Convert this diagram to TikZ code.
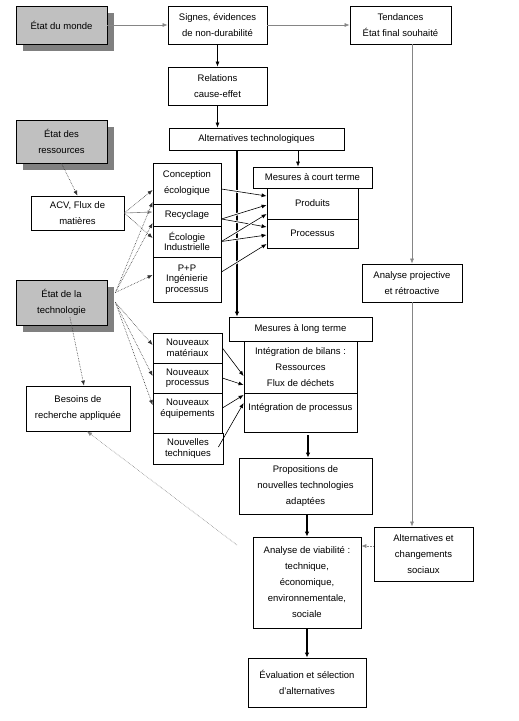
\documentclass[tikz,border=0pt]{standalone}
\usepackage{fontspec}
\setmainfont{Liberation Sans}
\usetikzlibrary{arrows.meta, positioning, shadows, calc}
\definecolor{etatgray}{HTML}{C0C0C0}
\definecolor{shadegray}{HTML}{808080}
\definecolor{linegray}{HTML}{858585}

\tikzset{
  box/.style={draw, line width=0.8pt, fill=white, align=center, inner sep=0pt,
    font=\fontsize{9.5}{16}\selectfont},
  tight/.style={font=\fontsize{9.5}{10.5}\selectfont},
  wh/.style 2 args={minimum width=#1, minimum height=#2},
  etat/.style={box, fill=etatgray,
    drop shadow={shadow xshift=7pt, shadow yshift=-7pt, fill=shadegray, opacity=1}},
  arr/.style={-{Latex[length=5pt,width=4pt]}, line width=0.6pt},
  grayarr/.style={arr, draw=linegray},
  dotarr/.style={arr, densely dotted, draw=black!80},
  thickarr/.style={-{Latex[length=5pt,width=4.5pt]}, line width=1.6pt},
  hop/.style={preaction={draw=white, line width=2.6pt, shorten <=4pt, shorten >=6pt}},
}

\begin{document}
\begin{tikzpicture}[x=1pt, y=-1pt]
  \useasboundingbox (0,0) rectangle (519,721);

  % states of the world, resources, technology
  \node[etat, wh={91}{38}] (monde) at (61.5,25) {État du monde};
  \node[etat, wh={91}{43}] (ress) at (61.5,141.5) {État des\\ressources};
  \node[etat, wh={91}{45}] (tech) at (61.5,302.5) {État de la\\technologie};

  % main chain
  \node[box, wh={99}{38}] (signes) at (217.5,25) {Signes, évidences\\de non-durabilité};
  \node[box, wh={101}{38}] (tend) at (400.5,25) {Tendances\\État final souhaité};
  \node[box, wh={99}{38}] (relat) at (217.5,86) {Relations\\cause-effet};
  \node[box, wh={175}{22}] (alttech) at (256.5,139) {Alternatives technologiques};
  \node[box, wh={93}{34}] (acv) at (77.5,213) {ACV, Flux de\\matières};

  % short term column
  \node[box, wh={68}{41}] (conc) at (187,183.5) {Conception\\écologique};
  \node[box, wh={68}{22}] (recy) at (187,215) {Recyclage};
  \node[box, tight, wh={68}{31}] (ecol) at (187,241.5) {Écologie\\Industrielle};
  \node[box, tight, wh={68}{45}] (pp) at (187,279.5) {P+P\\Ingénierie\\processus};
  \node[box, wh={119}{21}] (mct) at (312.5,177.5) {Mesures à court terme};
  \node[box, wh={91}{31}] (prod) at (312.5,203.5) {Produits};
  \node[box, wh={91}{29}] (proc) at (312.5,233.5) {Processus};

  % long term column
  \node[box, wh={143}{24}] (mlt) at (300.5,329) {Mesures à long terme};
  \node[box, wh={113}{52}] (bil) at (300.5,367) {Intégration de bilans :\\Ressources\\Flux de déchets};
  \node[box, tight, wh={113}{39}] (iproc) at (300.5,412.5) {Intégration de processus\\\mbox{}};
  \node[box, tight, wh={69}{30}] (nmat) at (187.5,348) {Nouveaux\\matériaux};
  \node[box, tight, wh={69}{30}] (nproc) at (187.5,378) {Nouveaux\\processus};
  \node[box, tight, wh={69}{40}] (nequ) at (187.5,413) {Nouveaux\\équipements\\\mbox{}};
  \node[box, tight, wh={70}{31}] (ntech) at (188,448.5) {Nouvelles\\techniques};
  \node[box, wh={104}{45}] (besoin) at (78,408.5) {Besoins de\\recherche appliquée};

  % right side and bottom
  \node[box, wh={100}{38}] (proj) at (412,283) {Analyse projective\\et rétroactive};
  \node[box, wh={99}{54}] (soc) at (423.5,554) {Alternatives et\\changements\\sociaux};
  \node[box, wh={133}{56}] (propo) at (305.5,486) {Propositions de\\nouvelles technologies\\adaptées};
  \node[box, wh={108}{91}] (viab) at (307,582.5) {Analyse de viabilité :\\technique,\\économique,\\environnementale,\\sociale};
  \node[box, wh={118}{49}] (eval) at (307,682.5) {Évaluation et sélection\\d'alternatives};

  \coordinate (techup) at ([xshift=8pt,yshift=10pt]tech.east);
  \coordinate (techlo) at ([xshift=8pt]tech.east);
  \coordinate (vfree) at (237,545);

  % connectors
  \draw[grayarr] (monde.east) -- (signes.west);
  \draw[grayarr] (signes.east) -- (tend.west);
  \draw[arr] (signes.south) -- (relat.north);
  \draw[arr] (relat.south) -- (relat.south |- alttech.north);
  \draw[grayarr] (proj.north |- tend.south) -- (proj.north);
  \draw[grayarr] (proj.south) -- (proj.south |- soc.north);
  \draw[dotarr, draw=linegray] ([yshift=8pt]soc.west) -- ([yshift=8pt]soc.west -| viab.east);
  \draw[arr] ([xshift=-14.5pt]mct.north |- alttech.south) -- ([xshift=-14.5pt]mct.north);
  \draw[thickarr] ([xshift=-63.5pt]mlt.north |- alttech.south) -- ([xshift=-63.5pt]mlt.north);
  \draw[thickarr, shorten <=3pt] ([xshift=7.5pt]iproc.south) -- ([xshift=7.5pt]iproc.south |- propo.north);
  \draw[thickarr] (viab.north |- propo.south) -- (viab.north);
  \draw[thickarr] (viab.south) -- (eval.north);

  % short term inputs
  \foreach \a/\sa/\b/\sb in {conc/-5.5/prod/7.5, recy/-4/prod/-1.5, recy/-4/proc/6.5,
      ecol/0/prod/-10.5, ecol/0/proc/-1.5, pp/7.5/proc/-10.5}
    \draw[arr, hop] ([yshift=\sa]\a.east) -- ([yshift=\sb]\b.west);

  % long term inputs
  \foreach \a/\sa/\b/\sb in {nmat/0/bil/-9, nproc/0/bil/-18, nequ/5/iproc/17.5}
    \draw[arr] ([yshift=\sa]\a.east) -- ([yshift=\sb]\b.west);
  \draw[arr] ([xshift=-5pt,yshift=1.5pt]ntech.east) -- ([yshift=9.5]iproc.west);

  % dotted links
  \draw[dotarr] (ress.south) -- (acv.north);
  \draw[dotarr] (acv.east) -- ([yshift=-6.5]conc.west);
  \draw[grayarr] (acv.east) -- ([yshift=3]recy.west);
  \draw[dotarr] (acv.east) -- ([yshift=3.5]ecol.west);
  \foreach \b/\sb in {conc/-18.5, recy/-8, pp/4.5}
    \draw[dotarr] (techup) -- ([yshift=\sb]\b.west);
  \foreach \b/\sb in {nmat/3, nproc/2, nequ/8}
    \draw[dotarr] (techlo) -- ([yshift=\sb]\b.west);
  \draw[dotarr] ([xshift=8.5pt,yshift=8pt]tech.south) -- ([xshift=6pt]besoin.north);
  \draw[dotarr, draw=linegray] (vfree) -- ([xshift=9pt]besoin.south);
\end{tikzpicture}
\end{document}
